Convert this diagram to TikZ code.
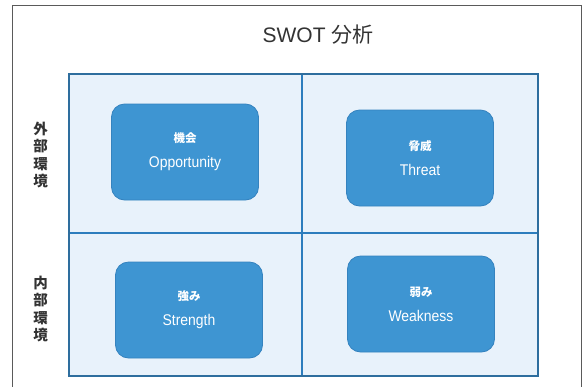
\documentclass[tikz,border=0pt]{standalone}
\usepackage{fontspec}
\setmainfont{Liberation Sans}
\newfontfamily\jp{Noto Sans CJK JP}
\newfontfamily\boxfont{Liberation Sans}[FakeStretch=0.9]
\definecolor{gridblue}{HTML}{2C7DBD}
\definecolor{gridedge}{HTML}{2E6E9E}
\definecolor{cellfill}{HTML}{E8F2FB}
\definecolor{boxfill}{HTML}{3E95D2}
\definecolor{boxedge}{HTML}{3583BF}
\definecolor{frame}{HTML}{5A5A5A}
\definecolor{titlecol}{HTML}{333333}
\tikzset{
  swotbox/.style={draw=boxedge, line width=0.8pt, fill=boxfill, rounded corners=13pt,
    minimum width=147pt, minimum height=96pt, text=white, align=center, inner sep=0pt,
    font=\boxfont\fontsize{15.5}{25}\selectfont},
  sidelabel/.style={align=center, text=titlecol, font=\jp\bfseries\fontsize{14.5}{17.5}\selectfont, inner sep=0pt},
  titlelabel/.style={text=titlecol, font=\fontsize{21}{24}\selectfont, inner sep=0pt},
}
\newcommand{\jpsmall}[1]{{\jp\bfseries\fontsize{11.5}{12}\selectfont #1}}
\begin{document}
\begin{tikzpicture}[x=1pt,y=-1pt]
\useasboundingbox (0,0) rectangle (583,386);
\draw[frame, line width=1pt] (12,5) -- (581,5) -- (581,392);
\draw[frame, line width=1pt] (12,5) -- (12,392);
\node[titlelabel] (title) at (318,35) {SWOT {\jp 分析}};
% grid
\fill[cellfill] (69,74) rectangle (538,376);
\draw[gridblue, line width=2pt] (302,74) -- (302,376);
\draw[gridblue, line width=2.2pt] (69,233) -- (538,233);
\draw[gridedge, line width=2.6pt] (69,74) rectangle (538,376);
% boxes
\node[swotbox] (opp) at (185,152) {\jpsmall{機会}\\Opportunity};
\node[swotbox] (thr) at (420,158) {\jpsmall{脅威}\\Threat};
\node[swotbox] (str) at (189,310) {\jpsmall{強み}\\Strength};
\node[swotbox] (wea) at (421,304) {\jpsmall{弱み}\\Weakness};
% side labels
\node[sidelabel] (ext) at (40.5,155) {外\\部\\環\\境};
\node[sidelabel] (int) at (40.5,309) {内\\部\\環\\境};
\end{tikzpicture}
\end{document}
